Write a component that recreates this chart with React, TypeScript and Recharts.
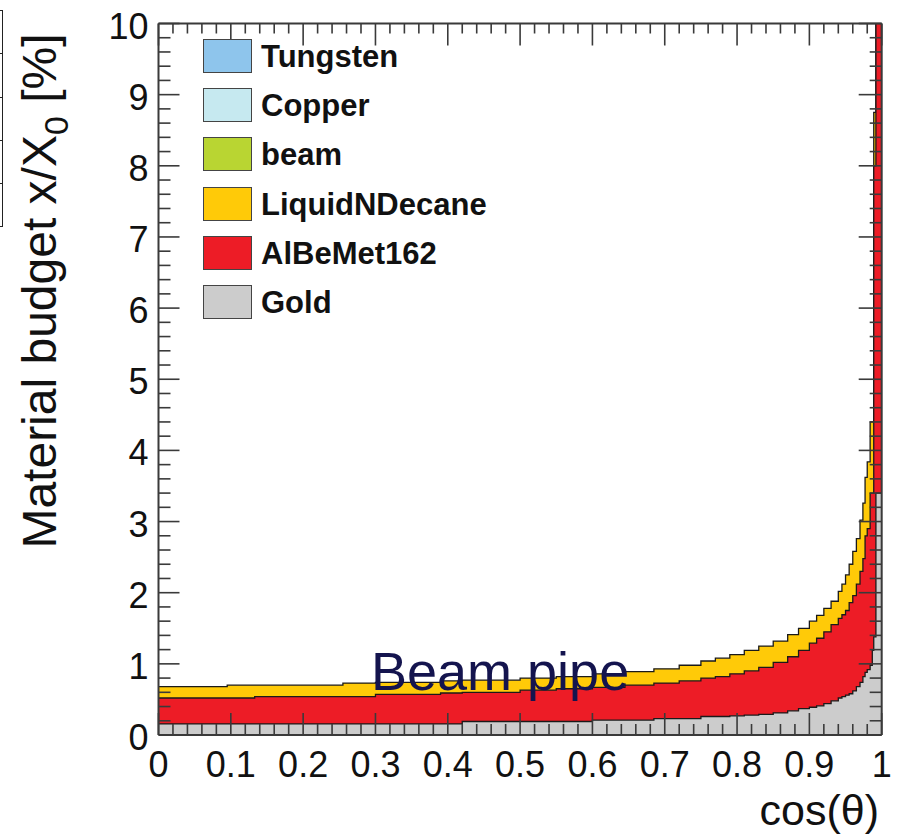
import { ComposedChart, Area, XAxis, YAxis, Legend, Label } from 'recharts';

// bin edges (cos theta) where the stacked histogram changes level
const cosTheta = [
  0, 0.095, 0.133, 0.255, 0.3, 0.39, 0.42, 0.5, 0.55, 0.6, 0.645, 0.685, 0.72,
  0.75, 0.77, 0.79, 0.81, 0.83, 0.85, 0.87, 0.885, 0.9, 0.91, 0.92, 0.93, 0.94,
  0.945, 0.95, 0.955, 0.96, 0.965, 0.97, 0.974, 0.977, 0.98, 0.984, 0.987,
  0.989, 0.992, 1.0,
];

// cumulative tops of each layer, x/X0 [%]
const goldTop = [
  0.155, 0.155, 0.155, 0.155, 0.155, 0.155, 0.19, 0.19, 0.19, 0.21, 0.21, 0.23,
  0.23, 0.26, 0.26, 0.27, 0.28, 0.29, 0.31, 0.34, 0.37, 0.39, 0.41, 0.44, 0.48,
  0.52, 0.54, 0.56, 0.58, 0.62, 0.68, 0.74, 0.82, 0.88, 0.92, 0.98, 1.19, 1.38,
  3.4, 3.4,
];
const alBeMetTop = [
  0.52, 0.52, 0.54, 0.54, 0.57, 0.59, 0.6, 0.63, 0.65, 0.67, 0.7, 0.73, 0.76,
  0.8, 0.82, 0.86, 0.9, 0.95, 1.02, 1.1, 1.19, 1.29, 1.36, 1.45, 1.55, 1.64,
  1.69, 1.75, 1.86, 1.96, 2.12, 2.3, 2.48, 2.8, 2.9, 3.4, 3.4, 8.0, 14, 14,
];
const decaneTop = [
  0.68, 0.7, 0.7, 0.73, 0.74, 0.76, 0.77, 0.8, 0.82, 0.86, 0.89, 0.93, 0.98,
  1.04, 1.08, 1.13, 1.19, 1.25, 1.32, 1.41, 1.5, 1.6, 1.68, 1.78, 1.88, 2.02,
  2.12, 2.25, 2.4, 2.58, 2.76, 3.02, 3.26, 3.62, 3.84, 4.4, 4.4, 8.75, 14, 14,
];

const xTickLabels = ['0', '0.1', '0.2', '0.3', '0.4', '0.5', '0.6', '0.7', '0.8', '0.9', '1'];
const yTickLabels = ['0', '1', '2', '3', '4', '5', '6', '7', '8', '9', '10'];

const legendItems = [
  { name: 'Tungsten', color: '#8ec5ec' },
  { name: 'Copper', color: '#c6e9f0' },
  { name: 'beam', color: '#b9d532' },
  { name: 'LiquidNDecane', color: '#ffca08' },
  { name: 'AlBeMet162', color: '#ed1c26' },
  { name: 'Gold', color: '#cccccc' },
];

const data = cosTheta.map((x, i) => ({
  x,
  gold: goldTop[i],
  albemet: alBeMetTop[i],
  decane: decaneTop[i],
}));

const xTicks: number[] = [];
for (let i = 0; i <= 50; i++) xTicks.push(Number((i * 0.02).toFixed(2)));
const yTicks: number[] = [];
for (let i = 0; i <= 50; i++) yTicks.push(Number((i * 0.2).toFixed(1)));

const FONT = '"Liberation Sans", Arial, Helvetica, sans-serif';
const AXIS = '#3a3a3a';

function BottomTick({ x, y, payload }: any) {
  const i = Math.round(payload.value * 50);
  const major = i % 5 === 0;
  return (
    <g>
      <line x1={x} x2={x} y1={y} y2={y - (major ? 22 : 11)} stroke={AXIS} strokeWidth={1.6} />
      {major && (
        <text x={x} y={y + 42} textAnchor="middle" fontSize={36} fontFamily={FONT} fill="#111">
          {xTickLabels[i / 5]}
        </text>
      )}
    </g>
  );
}

function TopTick({ x, y, payload }: any) {
  const i = Math.round(payload.value * 50);
  const major = i % 5 === 0;
  return <line x1={x} x2={x} y1={y} y2={y + (major ? 22 : 10)} stroke={AXIS} strokeWidth={1.6} />;
}

function LeftTick({ x, y, payload }: any) {
  const i = Math.round(payload.value * 5);
  const major = i % 5 === 0;
  return (
    <g>
      <line x1={x} x2={x + (major ? 21 : 12)} y1={y} y2={y} stroke={AXIS} strokeWidth={1.6} />
      {major && (
        <text x={x - 10} y={y + 15} textAnchor="end" fontSize={36} fontFamily={FONT} fill="#111">
          {yTickLabels[i / 5]}
        </text>
      )}
    </g>
  );
}

function RightTick({ x, y, payload }: any) {
  const i = Math.round(payload.value * 5);
  const major = i % 5 === 0;
  return <line x1={x} x2={x - (major ? 23 : 12)} y1={y} y2={y} stroke={AXIS} strokeWidth={1.6} />;
}

function YTitle() {
  return (
    <text
      x={56}
      y={291}
      transform="rotate(-90 56 291)"
      textAnchor="middle"
      fontSize={48}
      fontFamily={FONT}
      fill="#111"
    >
      Material budget x/X
      <tspan fontSize={34} dy={12}>0</tspan>
      <tspan dy={-12}> [%]</tspan>
    </text>
  );
}

function XTitle() {
  return (
    <text x={879} y={825} textAnchor="end" fontSize={43} fontFamily={FONT} fill="#111">
      cos(θ)
    </text>
  );
}

function LegendBox() {
  return (
    <div style={{ fontFamily: FONT }}>
      {legendItems.map((it) => (
        <div key={it.name} style={{ height: 49.2, display: 'flex', alignItems: 'flex-start' }}>
          <div
            style={{
              width: 47,
              height: 32,
              background: it.color,
              border: '1.5px solid #444',
            }}
          />
          <span
            style={{
              marginLeft: 9,
              fontSize: 31,
              fontWeight: 'bold',
              lineHeight: '35px',
              color: '#111',
            }}
          >
            {it.name}
          </span>
        </div>
      ))}
    </div>
  );
}

export default function App() {
  return (
    <div style={{ position: 'absolute', left: 0, top: 0, width: 897, height: 836, background: '#fff' }}>
      {/* edge of a neighbouring table cut off on the left */}
      <div style={{ position: 'absolute', left: -20, top: 10, width: 22, borderRight: '1.5px solid #222' }}>
        {[0, 1, 2, 3, 4].map((r) => (
          <div key={r} style={{ height: 42.3, borderTop: '1.5px solid #222', borderBottom: r === 4 ? '1.5px solid #222' : undefined }} />
        ))}
      </div>

      <ComposedChart
        width={897}
        height={836}
        data={data}
        margin={{ top: 13.5, right: 5.3, bottom: 61, left: 98.5 }}
      >
        <Area
          type="stepAfter"
          dataKey="decane"
          fill="#ffca08"
          fillOpacity={1}
          stroke="#1a1a1a"
          strokeWidth={1.3}
          isAnimationActive={false}
          name="LiquidNDecane"
        />
        <Area
          type="stepAfter"
          dataKey="albemet"
          fill="#ed1c26"
          fillOpacity={1}
          stroke="#1a1a1a"
          strokeWidth={1.3}
          isAnimationActive={false}
          name="AlBeMet162"
        />
        <Area
          type="stepAfter"
          dataKey="gold"
          fill="#cccccc"
          fillOpacity={1}
          stroke="#1a1a1a"
          strokeWidth={1.3}
          isAnimationActive={false}
          name="Gold"
        />
        <XAxis
          dataKey="x"
          type="number"
          domain={[0, 1]}
          allowDataOverflow
          ticks={xTicks}
          interval={0}
          height={40}
          tickSize={0}
          tickMargin={0}
          tickLine={false}
          axisLine={{ stroke: AXIS, strokeWidth: 2 }}
          tick={(p: any) => <BottomTick {...p} />}
        >
          <Label content={() => <XTitle />} />
        </XAxis>
        <XAxis
          xAxisId="top"
          orientation="top"
          dataKey="x"
          type="number"
          domain={[0, 1]}
          allowDataOverflow
          ticks={xTicks}
          interval={0}
          height={10}
          tickSize={0}
          tickMargin={0}
          tickLine={false}
          axisLine={{ stroke: AXIS, strokeWidth: 2 }}
          tick={(p: any) => <TopTick {...p} />}
        />
        <YAxis
          type="number"
          domain={[0, 10]}
          allowDataOverflow
          ticks={yTicks}
          interval={0}
          width={60}
          tickSize={0}
          tickMargin={0}
          tickLine={false}
          axisLine={{ stroke: AXIS, strokeWidth: 2 }}
          tick={(p: any) => <LeftTick {...p} />}
        >
          <Label content={() => <YTitle />} />
        </YAxis>
        <YAxis
          yAxisId="right"
          orientation="right"
          type="number"
          domain={[0, 10]}
          allowDataOverflow
          ticks={yTicks}
          interval={0}
          width={10}
          tickSize={0}
          tickMargin={0}
          tickLine={false}
          axisLine={{ stroke: AXIS, strokeWidth: 2 }}
          tick={(p: any) => <RightTick {...p} />}
        />
        <Legend
          layout="vertical"
          align="center"
          verticalAlign="middle"
          content={() => <LegendBox />}
          wrapperStyle={{ left: 203, top: 39, width: 330 }}
        />
      </ComposedChart>

      <div
        style={{
          position: 'absolute',
          left: 371,
          top: 644,
          fontFamily: FONT,
          fontSize: 54,
          lineHeight: '54px',
          color: '#14144e',
          whiteSpace: 'nowrap',
          pointerEvents: 'none',
        }}
      >
        Beam pipe
      </div>
    </div>
  );
}
